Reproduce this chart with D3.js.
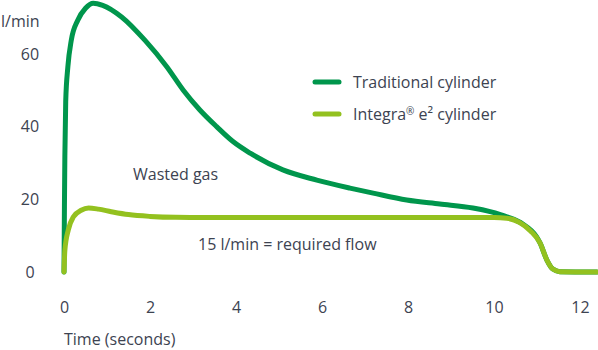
<!DOCTYPE html>
<html>
<head>
<meta charset="utf-8">
<script src="https://cdn.jsdelivr.net/npm/d3@7"></script>
<style>
  html, body { margin: 0; padding: 0; background: #fff; }
  svg { display: block; font-family: "Open Sans", sans-serif; }
</style>
</head>
<body>
<svg id="chart" width="598" height="350"></svg>
<script>
// Flow over time (l/min) for the two cylinder types
const traditionalTime = [0, 0.01, 0.02, 0.04, 0.09, 0.17, 0.32, 0.5, 0.68, 0.9, 1.34, 1.88, 2.39, 2.77, 3.16, 3.55, 3.93, 4.33, 5.09, 5.88, 6.65, 7.19, 7.97, 8.74, 9.51, 9.91, 10.3, 10.67, 10.99, 11.07, 11.23, 11.37, 11.53, 12.39];
const traditionalFlow = [0, 18, 32, 47, 56.5, 63.8, 69.3, 72.6, 74, 73.4, 70.2, 63.8, 56.5, 50.1, 44.6, 40, 35.9, 32.7, 28.1, 25.3, 23.1, 21.7, 19.8, 18.7, 17.6, 16.6, 15.2, 13.2, 9.7, 8, 3.3, 0.8, 0.1, 0];

const integraTime = [0, 0.02, 0.1, 0.22, 0.4, 0.57, 0.8, 1.1, 1.5, 2.0, 2.6, 3.6, 5, 7, 9, 10.0, 10.3, 10.6, 10.85, 11.07, 11.23, 11.37, 11.53, 12.39];
const integraFlow = [0, 6, 11.6, 15.2, 17, 17.6, 17.3, 16.6, 15.8, 15.3, 15.05, 15, 15, 15, 15, 15, 14.8, 13.6, 11.3, 8, 3.3, 0.8, 0.1, 0];

const requiredFlow = 15;

const xTicks = [0, 2, 4, 6, 8, 10, 12];
const yTicks = [0, 20, 40, 60];

const seriesNames = ["Traditional cylinder", "Integra"];
const darkGreen = "#00964c";
const lightGreen = "#93c11f";
const textColor = "#3d4351";

const svg = d3.select("#chart");

const x = d3.scaleLinear().domain([0, 12]).range([64, 580]);
const y = d3.scaleLinear().domain([0, 60]).range([272, 54]);

// Axes: labels only, no lines or tick marks
const xAxis = svg.append("g")
  .attr("transform", "translate(0,302)")
  .call(d3.axisBottom(x).tickValues(xTicks).tickSize(0).tickPadding(0).tickFormat(d3.format("d")));
const yAxis = svg.append("g")
  .attr("transform", "translate(30,0)")
  .call(d3.axisLeft(y).tickValues(yTicks).tickSize(0).tickPadding(0).tickFormat(d3.format("d")));

[xAxis, yAxis].forEach(g => {
  g.select(".domain").remove();
  g.selectAll("text")
    .attr("fill", textColor)
    .style("font-size", "16px")
    .style("font-family", "'Open Sans', sans-serif");
});
yAxis.selectAll("text").attr("text-anchor", "middle").attr("x", 0);

svg.append("text")
  .attr("x", 1).attr("y", 27)
  .attr("fill", textColor).style("font-size", "16px")
  .text("l/min");

svg.append("text")
  .attr("x", 64).attr("y", 345)
  .attr("fill", textColor).style("font-size", "16px")
  .text("Time (seconds)");

// Flow curves
const line = d3.line()
  .x(d => x(d[0]))
  .y(d => y(d[1]))
  .curve(d3.curveMonotoneX);

const traditional = d3.zip(traditionalTime, traditionalFlow);
const integra = d3.zip(integraTime, integraFlow);

svg.append("path")
  .datum(traditional)
  .attr("d", line)
  .attr("fill", "none")
  .attr("stroke", darkGreen)
  .attr("stroke-width", 5)
  .attr("stroke-linecap", "round")
  .attr("stroke-linejoin", "round");

svg.append("path")
  .datum(integra)
  .attr("d", line)
  .attr("fill", "none")
  .attr("stroke", lightGreen)
  .attr("stroke-width", 5)
  .attr("stroke-linecap", "round")
  .attr("stroke-linejoin", "round");

// Annotations
svg.append("text")
  .attr("x", 133).attr("y", 180)
  .attr("fill", textColor).style("font-size", "16px")
  .text("Wasted gas");

svg.append("text")
  .attr("x", 198).attr("y", 250)
  .attr("fill", textColor).style("font-size", "16px")
  .text(`${requiredFlow} l/min = required flow`);

// Legend
const legend = svg.append("g");
const legendRows = [
  { color: darkGreen, y: 82 },
  { color: lightGreen, y: 114 }
];
legendRows.forEach((r, i) => {
  legend.append("line")
    .attr("x1", 315).attr("x2", 339)
    .attr("y1", r.y).attr("y2", r.y)
    .attr("stroke", r.color)
    .attr("stroke-width", 5)
    .attr("stroke-linecap", "round");
  const t = legend.append("text")
    .attr("x", 353).attr("y", r.y + 6)
    .attr("fill", textColor).style("font-size", "16px");
  if (i === 0) {
    t.text(seriesNames[0]);
  } else {
    t.append("tspan").text(seriesNames[1]);
    t.append("tspan").attr("dy", -5).style("font-size", "10px").text("®");
    t.append("tspan").attr("dy", 5).text(" e²");
    t.append("tspan").text(" cylinder");
  }
});
</script>
</body>
</html>
